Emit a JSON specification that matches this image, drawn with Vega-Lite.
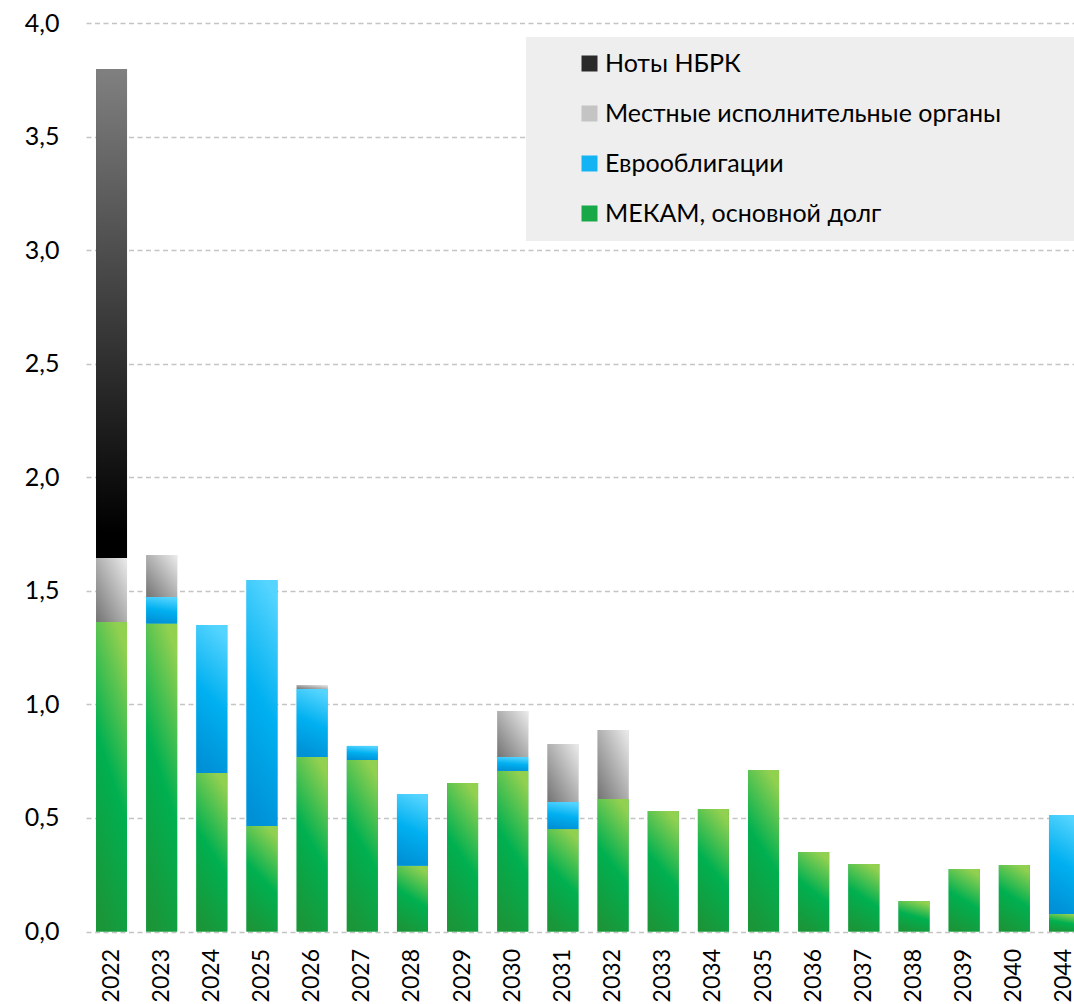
{
  "$schema": "https://vega.github.io/schema/vega-lite/v6.json",
  "width": 988,
  "height": 908.5,
  "autosize": "none",
  "padding": {"left": 86, "top": 23, "right": 0, "bottom": 72.5},
  "config": {
    "view": {"stroke": null},
    "font": "Lato",
    "axis": {"labelFont": "Lato", "labelColor": "#000000", "labelFontSize": 24}
  },
  "params": [
    {"name": "gNotes", "value": {"gradient": "linear", "x1": 0, "y1": 1, "x2": 0, "y2": 0, "stops": [{"offset": 0, "color": "#000000"}, {"offset": 0.05, "color": "#000000"}, {"offset": 1, "color": "#808080"}]}},
    {"name": "gLocal", "value": {"gradient": "linear", "x1": 0, "y1": 1, "x2": 1, "y2": 0, "stops": [{"offset": 0, "color": "#737373"}, {"offset": 1, "color": "#ececec"}]}},
    {"name": "gEuro", "value": {"gradient": "linear", "x1": 0.4, "y1": 1, "x2": 0.6, "y2": 0, "stops": [{"offset": 0, "color": "#0090d6"}, {"offset": 0.5, "color": "#00b0f0"}, {"offset": 1, "color": "#55d4ff"}]}},
    {"name": "gMekam", "value": {"gradient": "linear", "x1": 0.35, "y1": 1, "x2": 0.65, "y2": 0, "stops": [{"offset": 0, "color": "#1a9639"}, {"offset": 0.5, "color": "#00b050"}, {"offset": 1, "color": "#92d050"}]}}
  ],
  "data": {
    "values": [
      {"year": "2022", "series": "МЕКАМ, основной долг", "value": 1.363},
      {"year": "2022", "series": "Местные исполнительные органы", "value": 0.282},
      {"year": "2022", "series": "Ноты НБРК", "value": 2.153},
      {"year": "2023", "series": "МЕКАМ, основной долг", "value": 1.356},
      {"year": "2023", "series": "Еврооблигации", "value": 0.117},
      {"year": "2023", "series": "Местные исполнительные органы", "value": 0.185},
      {"year": "2024", "series": "МЕКАМ, основной долг", "value": 0.698},
      {"year": "2024", "series": "Еврооблигации", "value": 0.652},
      {"year": "2025", "series": "МЕКАМ, основной долг", "value": 0.465},
      {"year": "2025", "series": "Еврооблигации", "value": 1.083},
      {"year": "2026", "series": "МЕКАМ, основной долг", "value": 0.768},
      {"year": "2026", "series": "Еврооблигации", "value": 0.300},
      {"year": "2026", "series": "Местные исполнительные органы", "value": 0.017},
      {"year": "2027", "series": "МЕКАМ, основной долг", "value": 0.755},
      {"year": "2027", "series": "Еврооблигации", "value": 0.062},
      {"year": "2028", "series": "МЕКАМ, основной долг", "value": 0.289},
      {"year": "2028", "series": "Еврооблигации", "value": 0.316},
      {"year": "2029", "series": "МЕКАМ, основной долг", "value": 0.654},
      {"year": "2030", "series": "МЕКАМ, основной долг", "value": 0.707},
      {"year": "2030", "series": "Еврооблигации", "value": 0.061},
      {"year": "2030", "series": "Местные исполнительные органы", "value": 0.203},
      {"year": "2031", "series": "МЕКАМ, основной долг", "value": 0.451},
      {"year": "2031", "series": "Еврооблигации", "value": 0.119},
      {"year": "2031", "series": "Местные исполнительные органы", "value": 0.256},
      {"year": "2032", "series": "МЕКАМ, основной долг", "value": 0.583},
      {"year": "2032", "series": "Местные исполнительные органы", "value": 0.304},
      {"year": "2033", "series": "МЕКАМ, основной долг", "value": 0.531},
      {"year": "2034", "series": "МЕКАМ, основной долг", "value": 0.539},
      {"year": "2035", "series": "МЕКАМ, основной долг", "value": 0.711},
      {"year": "2036", "series": "МЕКАМ, основной долг", "value": 0.350},
      {"year": "2037", "series": "МЕКАМ, основной долг", "value": 0.297},
      {"year": "2038", "series": "МЕКАМ, основной долг", "value": 0.134},
      {"year": "2039", "series": "МЕКАМ, основной долг", "value": 0.275},
      {"year": "2040", "series": "МЕКАМ, основной долг", "value": 0.293},
      {"year": "2044", "series": "МЕКАМ, основной долг", "value": 0.077},
      {"year": "2044", "series": "Еврооблигации", "value": 0.436}
    ]
  },
  "transform": [
    {"calculate": "indexof(['МЕКАМ, основной долг', 'Еврооблигации', 'Местные исполнительные органы', 'Ноты НБРК'], datum.series)", "as": "stackOrder"}
  ],
  "encoding": {
    "x": {
      "field": "year",
      "type": "ordinal",
      "scale": {"paddingInner": 0.382, "paddingOuter": 0.2, "range": [0, 1004]},
      "axis": {
        "title": null,
        "labelAngle": -90,
        "labelAlign": "right",
        "labelBaseline": "middle",
        "labelPadding": 17,
        "labelFontSize": 23,
        "ticks": false,
        "domain": false,
        "grid": false
      }
    },
    "y": {
      "field": "value",
      "type": "quantitative",
      "stack": "zero",
      "scale": {"domain": [0, 4], "nice": false},
      "axis": {
        "title": null,
        "values": [0, 0.5, 1, 1.5, 2, 2.5, 3, 3.5, 4],
        "labelExpr": "replace(format(datum.value, '.1f'), '.', ',')",
        "domain": false,
        "ticks": false,
        "labelPadding": 27,
        "labelFontSize": 25,
        "gridDash": [5, 3.5],
        "gridColor": "#c4c4c4",
        "gridWidth": 1.5
      }
    },
    "order": {"field": "stackOrder", "type": "quantitative"}
  },
  "layer": [
    {
      "mark": {"type": "bar"},
      "encoding": {
        "color": {
          "field": "series",
          "type": "nominal",
          "scale": {
            "domain": ["Ноты НБРК", "Местные исполнительные органы", "Еврооблигации", "МЕКАМ, основной долг"],
            "range": ["#2a2a2a", "#c4c4c4", "#14b4f4", "#18a848"]
          },
          "legend": {
            "orient": "none",
            "legendX": 440,
            "legendY": 14,
            "title": "\u00a0",
            "titleOrient": "right",
            "titlePadding": 60,
            "titleFontSize": 10,
            "fillColor": "#eeeeee",
            "padding": 14,
            "symbolType": "square",
            "symbolSize": 256,
            "symbolStrokeWidth": 0,
            "symbolOffset": 37,
            "labelOffset": 3,
            "labelFontSize": 25,
            "labelFont": "Lato",
            "labelColor": "#000000",
            "labelLimit": 700,
            "rowPadding": 24
          }
        }
      }
    },
    {
      "mark": {
        "type": "bar",
        "color": {"expr": "datum.series === 'Ноты НБРК' ? gNotes : datum.series === 'Местные исполнительные органы' ? gLocal : datum.series === 'Еврооблигации' ? gEuro : gMekam"}
      },
      "encoding": {
        "detail": {"field": "series", "type": "nominal"}
      }
    }
  ]
}
